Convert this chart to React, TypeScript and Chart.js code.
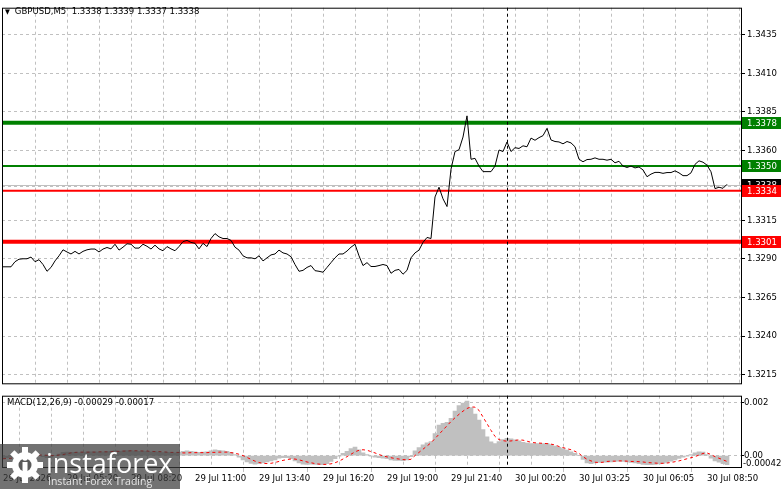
import React, { useEffect, useRef } from "react";
import { Chart, registerables } from "chart.js";

Chart.register(...registerables);

const FONT = '"DejaVu Sans Condensed", "DejaVu Sans", sans-serif';
const FS = 9.5;

// ---------------- data ----------------
const headerText = "GBPUSD,M5  1.3338 1.3339 1.3337 1.3338";
const macdTitle = "MACD(12,26,9) -0.00029 -0.00017";

// one point = 10 minutes (two M5 bars); a time label every 16 points
const timeLabels = [
  "29 Jul 2026", "29 Jul 05:20", "29 Jul 08:20", "29 Jul 11:00", "29 Jul 13:40", "29 Jul 16:20",
  "29 Jul 19:00", "29 Jul 21:40", "30 Jul 00:20", "30 Jul 03:25", "30 Jul 06:05", "30 Jul 08:50",
];
const labelEvery = 16;
const gridEvery = 8;
const daySeparator = 126; // 30 Jul 00:00

const closePrices = [
  1.32848, 1.32848, 1.32848, 1.32881, 1.32897, 1.329, 1.329, 1.32911, 1.32881, 1.32894,
  1.32863, 1.32819, 1.32844, 1.32886, 1.32919, 1.32958, 1.32944, 1.32931, 1.32948, 1.32931,
  1.32948, 1.32958, 1.32963, 1.32963, 1.32944, 1.32963, 1.32973, 1.32964, 1.32994, 1.32956,
  1.32975, 1.32997, 1.32994, 1.32969, 1.32969, 1.32994, 1.32981, 1.32963, 1.32988, 1.32964,
  1.32952, 1.32979, 1.32964, 1.32952, 1.32979, 1.33011, 1.33019, 1.33006, 1.33, 1.32964,
  1.33, 1.32979, 1.33031, 1.33063, 1.33042, 1.33031, 1.33031, 1.33019, 1.32975, 1.32956,
  1.32919, 1.32906, 1.32906, 1.329, 1.32919, 1.32886, 1.32906, 1.32925, 1.32931, 1.32956,
  1.32938, 1.32931, 1.32913, 1.32863, 1.32819, 1.32825, 1.32844, 1.32856, 1.32823, 1.32819,
  1.32813, 1.32844, 1.32875, 1.32906, 1.32931, 1.32931, 1.3295, 1.32975, 1.32994, 1.32919,
  1.32856, 1.32875, 1.3285, 1.3285, 1.32856, 1.32863, 1.32856, 1.32806, 1.32825, 1.32831,
  1.328, 1.32825, 1.32906, 1.32938, 1.32956, 1.33006, 1.33038, 1.33031, 1.333, 1.33363,
  1.33288, 1.33238, 1.3348, 1.33594, 1.33606, 1.33688, 1.33825, 1.33544, 1.3355, 1.335,
  1.33464, 1.33464, 1.33464, 1.335, 1.33604, 1.33594, 1.33656, 1.33594, 1.33619, 1.33614,
  1.33631, 1.33625, 1.33681, 1.33667, 1.33684, 1.33697, 1.33744, 1.33669, 1.33659, 1.33656,
  1.33644, 1.33659, 1.3365, 1.33625, 1.33544, 1.33528, 1.33542, 1.33544, 1.33553, 1.33544,
  1.33544, 1.33538, 1.33544, 1.33521, 1.33531, 1.335, 1.33491, 1.335, 1.33488, 1.33494,
  1.33475, 1.33431, 1.33448, 1.33459, 1.33459, 1.33453, 1.33458, 1.33458, 1.33469, 1.33456,
  1.33438, 1.33438, 1.33456, 1.33511, 1.33534, 1.33525, 1.33506, 1.33463, 1.33354, 1.33363,
  1.33356, 1.33382,
];

const macdMain = [
  -0.0001, -0.00008, -0.00005, -0.00002, 0.00002, 0.00004, 0.00005, 0.00004, 0.00002, 0.0,
  -0.00004, -0.00008, -0.00006, 0.0, 0.00006, 0.00012, 0.00013, 0.00012, 0.00012, 0.00011,
  0.00012, 0.00013, 0.00014, 0.00014, 0.00013, 0.00014, 0.00015, 0.00016, 0.00018, 0.00016,
  0.00017, 0.00019, 0.00019, 0.00017, 0.00016, 0.00017, 0.00016, 0.00014, 0.00015, 0.00013,
  0.00011, 0.00012, 0.00011, 0.0001, 0.00012, 0.00016, 0.00018, 0.00016, 0.00014, 0.00012,
  0.00013, 0.00014, 0.00018, 0.00022, 0.0002, 0.00018, 0.00016, 0.00012, 0.00004, -0.00006,
  -0.00016, -0.00024, -0.00029, -0.00032, -0.0003, -0.00028, -0.00024, -0.0002, -0.00016, -0.0001,
  -0.00008, -0.00008, -0.00012, -0.0002, -0.00028, -0.00032, -0.00033, -0.00032, -0.00033, -0.00034,
  -0.00034, -0.0003, -0.00022, -0.00012, -0.00002, 0.00008, 0.00016, 0.00026, 0.00032, 0.00022,
  0.0001, 0.00004, -0.00002, -0.00006, -0.00008, -0.0001, -0.00012, -0.00016, -0.00018, -0.00018,
  -0.00019, -0.00016, -0.00004, 0.00018, 0.0003, 0.0004, 0.00048, 0.00053, 0.00083, 0.00115,
  0.00121, 0.00125, 0.0014, 0.00167, 0.00188, 0.00197, 0.00205, 0.0018, 0.00156, 0.00133,
  0.00098, 0.0007, 0.00052, 0.00045, 0.00053, 0.0006, 0.00065, 0.00063, 0.00059, 0.00055,
  0.0005, 0.00047, 0.00045, 0.00045, 0.00045, 0.00045, 0.00046, 0.00041, 0.00036, 0.00031,
  0.00026, 0.00021, 0.00014, 0.00008, 0.0, -0.00014, -0.00028, -0.0003, -0.00028, -0.00026,
  -0.00025, -0.00025, -0.00024, -0.00022, -0.00021, -0.00022, -0.00024, -0.00026, -0.00028, -0.0003,
  -0.00033, -0.00034, -0.00034, -0.00033, -0.00031, -0.00029, -0.00026, -0.00021, -0.00016, -0.00011,
  -0.00006, -0.00002, 0.00004, 0.0001, 0.00014, 0.00013, 0.00004, -0.0001, -0.0002, -0.00025,
  -0.0003, -0.00034,
];

const macdSignal = [
  -0.00012, -0.00011, -0.0001, -0.00008, -0.00006, -0.00004, -0.00002, 0.0, 0.00001, 0.00002,
  0.00002, 0.00001, 0.0, 0.0, 0.00002, 0.00004, 0.00007, 0.0001, 0.00012, 0.00013,
  0.00013, 0.00013, 0.00013, 0.00013, 0.00014, 0.00014, 0.00014, 0.00015, 0.00016, 0.00016,
  0.00017, 0.00017, 0.00018, 0.00018, 0.00018, 0.00017, 0.00017, 0.00016, 0.00015, 0.00015,
  0.00014, 0.00013, 0.00012, 0.00012, 0.00012, 0.0001, 0.0001, 0.00011, 0.00011, 0.00011,
  0.00011, 0.00011, 0.00012, 0.00012, 0.00013, 0.00013, 0.00013, 0.00011, 0.00009, 0.00005,
  0.0, -0.00007, -0.00014, -0.00021, -0.00026, -0.00029, -0.0003, -0.00029, -0.00026, -0.00022,
  -0.00018, -0.00015, -0.00013, -0.00013, -0.00016, -0.0002, -0.00024, -0.00027, -0.0003, -0.00032,
  -0.00033, -0.00033, -0.00031, -0.00027, -0.00021, -0.00013, -0.00004, 0.00005, 0.00014, 0.0002,
  0.00022, 0.0002, 0.00015, 0.0001, 0.00004, -0.00001, -0.00005, -0.00008, -0.00011, -0.00013,
  -0.00015, -0.00016, -0.00014, 0.0, 0.00012, 0.00024, 0.00036, 0.00048, 0.00064, 0.0008,
  0.00096, 0.00112, 0.00128, 0.00142, 0.00155, 0.00167, 0.00177, 0.00183, 0.00182, 0.0017,
  0.00145, 0.0012, 0.00095, 0.00072, 0.0006, 0.00056, 0.00054, 0.00055, 0.00057, 0.00059,
  0.00058, 0.00054, 0.0005, 0.00048, 0.00047, 0.00046, 0.00045, 0.00043, 0.0004, 0.00034,
  0.0003, 0.00026, 0.00022, 0.00016, 0.00008, -0.00004, -0.00014, -0.0002, -0.00025, -0.00026,
  -0.00025, -0.00022, -0.00021, -0.00021, -0.0002, -0.0002, -0.00021, -0.00022, -0.00022, -0.00023,
  -0.00024, -0.00026, -0.00027, -0.00028, -0.00029, -0.00029, -0.00028, -0.00026, -0.00023, -0.0002,
  -0.00016, -0.00012, -0.00008, -0.00004, 0.00002, 0.00008, 0.0001, 0.00004, -0.00004, -0.0001,
  -0.00016, -0.00022,
];

const priceTicks = [1.3435, 1.341, 1.3385, 1.336, 1.3337, 1.3315, 1.329, 1.3265, 1.324, 1.3215];
const levelValues = [1.3378, 1.335, 1.3334, 1.3301];
const bidPrice = 1.3338;
const markerValues = [1.3378, 1.335, 1.3338, 1.3334, 1.3301];
const macdTicks = [0.002, 0];
const macdLowLabel = "-0.00042";

// ---------------- styles / layout ----------------
const levelColors = ["#008000", "#008000", "#ff0000", "#ff0000"];
const levelWidths = [4, 2, 2, 4];
const markerColors = ["#008000", "#008000", "#000000", "#ff0000", "#ff0000"];
const GRID = "#c0c0c0";
const W = 781;
const MAIN_H = 391;
const MACD_TOP = 390;
const MACD_H = 99;
const X_MIN = -0.25;
const X_MAX = 184.5;
const PRICE_MIN = 1.32094;
const PRICE_MAX = 1.34525;
const MACD_MIN = -0.000429;
const MACD_MAX = 0.00225;

function gridSteps(): number[] {
  const out: number[] = [];
  for (let v = 0; v <= X_MAX; v += gridEvery) out.push(v);
  return out;
}

function drawSeparator(chart: any) {
  const { ctx, chartArea: a, scales } = chart;
  const xs = Math.round(scales.x.getPixelForValue(daySeparator)) + 0.5;
  ctx.save();
  ctx.strokeStyle = "#000";
  ctx.lineWidth = 1;
  ctx.setLineDash([3, 3]);
  ctx.beginPath();
  ctx.moveTo(xs, a.top);
  ctx.lineTo(xs, a.bottom);
  ctx.stroke();
  ctx.restore();
}

function drawFrame(chart: any) {
  const { ctx, chartArea: a } = chart;
  ctx.save();
  ctx.strokeStyle = "#000";
  ctx.lineWidth = 1;
  ctx.strokeRect(a.left + 0.5, a.top + 0.5, a.right - a.left, a.bottom - a.top);
  ctx.restore();
}

const mainPlugin = {
  id: "mainDecor",
  beforeDatasetsDraw(chart: any) {
    const { ctx, chartArea: a, scales } = chart;
    const y = scales.y;
    ctx.save();
    ctx.beginPath();
    ctx.rect(a.left, a.top, a.right - a.left, a.bottom - a.top);
    ctx.clip();
    const yb = Math.round(y.getPixelForValue(bidPrice)) + 0.5;
    ctx.strokeStyle = GRID;
    ctx.lineWidth = 1;
    ctx.beginPath();
    ctx.moveTo(a.left, yb);
    ctx.lineTo(a.right, yb);
    ctx.stroke();
    levelValues.forEach((v, k) => {
      const yy = y.getPixelForValue(v);
      ctx.strokeStyle = levelColors[k];
      ctx.lineWidth = levelWidths[k];
      ctx.beginPath();
      ctx.moveTo(a.left, yy);
      ctx.lineTo(a.right, yy);
      ctx.stroke();
    });
    ctx.restore();
    drawSeparator(chart);
  },
  afterDraw(chart: any) {
    const { ctx, chartArea: a, scales } = chart;
    drawFrame(chart);
    ctx.save();
    ctx.font = `${FS}px ${FONT}`;
    ctx.textBaseline = "middle";
    ctx.textAlign = "left";
    markerValues.forEach((v, k) => {
      const yy = Math.round(scales.y.getPixelForValue(v));
      ctx.fillStyle = markerColors[k];
      ctx.fillRect(a.right + 1, yy - 6, W - a.right - 1, 12);
      ctx.fillStyle = "#fff";
      ctx.fillText(v.toFixed(4), a.right + 6, yy + 0.5);
    });
    ctx.restore();
  },
};

const macdPlugin = {
  id: "macdDecor",
  afterDatasetsDraw(chart: any) {
    drawSeparator(chart);
  },
  afterDraw(chart: any) {
    const { ctx, chartArea: a } = chart;
    drawFrame(chart);
    ctx.save();
    ctx.font = `${FS}px ${FONT}`;
    ctx.fillStyle = "#000";
    ctx.textBaseline = "bottom";
    ctx.textAlign = "left";
    ctx.fillText(macdLowLabel, a.right + 2, a.bottom + 1);
    ctx.restore();
  },
};

function GearIcon() {
  const teeth = [0, 45, 90, 135, 180, 225, 270, 315];
  return (
    <svg width={40} height={40} viewBox="0 0 40 40" style={{ position: "absolute", left: 5, top: 1 }}>
      {teeth.map((r) => (
        <rect key={r} x={17} y={2} width={6} height={8} fill="#fff" transform={`rotate(${r} 20 20)`} />
      ))}
      <circle cx={20} cy={20} r={13} fill="#fff" />
      <circle cx={20} cy={20} r={6.5} fill="#5a5a5a" />
      <rect x={17.5} y={17} width={5} height={14} fill="#fff" />
      <circle cx={20} cy={13} r={2.8} fill="#fff" />
    </svg>
  );
}

export default function App() {
  const mainRef = useRef<HTMLCanvasElement | null>(null);
  const macdRef = useRef<HTMLCanvasElement | null>(null);

  useEffect(() => {
    document.body.style.margin = "0";
    Chart.defaults.font.family = FONT;
    Chart.defaults.font.size = FS;
    Chart.defaults.color = "#000";

    const steps = gridSteps();

    const main = new Chart(mainRef.current as HTMLCanvasElement, {
      type: "line",
      data: {
        datasets: [
          {
            data: closePrices.map((v, i) => ({ x: i, y: v })),
            borderColor: "#000",
            borderWidth: 1,
            pointRadius: 0,
            tension: 0,
          },
        ],
      },
      options: {
        responsive: false,
        animation: false,
        events: [],
        layout: { padding: { left: 2, top: 1, right: 0, bottom: 1 } },
        plugins: { legend: { display: false }, tooltip: { enabled: false } },
        scales: {
          x: {
            type: "linear",
            min: X_MIN,
            max: X_MAX,
            afterBuildTicks: (s: any) => {
              s.ticks = steps.filter((v) => v > 0).map((v) => ({ value: v }));
            },
            afterFit: (s: any) => {
              s.height = 0;
            },
            ticks: { display: false },
            grid: { color: GRID, drawTicks: false, tickLength: 0 },
            border: { display: false, dash: [3, 3] },
          },
          y: {
            type: "linear",
            position: "right",
            min: PRICE_MIN,
            max: PRICE_MAX,
            afterBuildTicks: (s: any) => {
              s.ticks = priceTicks.map((v) => ({ value: v }));
            },
            afterFit: (s: any) => {
              s.width = W - 741;
            },
            ticks: {
              padding: 2,
              color: "#000",
              font: { size: FS, family: FONT },
              callback: (v: any) => Number(v).toFixed(4),
            },
            grid: { color: GRID, tickColor: "#000", tickLength: 4 },
            border: { display: false, dash: [3, 3] },
          },
        },
      },
      plugins: [mainPlugin],
    } as any);

    const macd = new Chart(macdRef.current as HTMLCanvasElement, {
      type: "bar",
      data: {
        datasets: [
          {
            type: "line",
            data: macdSignal.map((v, i) => ({ x: i, y: v })),
            borderColor: "#ff0000",
            borderWidth: 1,
            borderDash: [3, 3],
            pointRadius: 0,
            tension: 0,
            order: 1,
          },
          {
            type: "bar",
            data: macdMain.map((v, i) => ({ x: i, y: v })),
            backgroundColor: "#c0c0c0",
            borderWidth: 0,
            barPercentage: 1,
            categoryPercentage: 1,
            order: 2,
          },
        ],
      },
      options: {
        responsive: false,
        animation: false,
        events: [],
        layout: { padding: { left: 2, top: 2, right: 0, bottom: 0 } },
        plugins: { legend: { display: false }, tooltip: { enabled: false } },
        scales: {
          x: {
            type: "linear",
            min: X_MIN,
            max: X_MAX,
            offset: false,
            afterBuildTicks: (s: any) => {
              s.ticks = steps.map((v) => ({ value: v }));
            },
            afterFit: (s: any) => {
              s.height = 22;
            },
            ticks: {
              autoSkip: false,
              maxRotation: 0,
              minRotation: 0,
              align: "start",
              padding: 1,
              color: "#000",
              font: { size: FS, family: FONT },
              callback: (v: any) => {
                const n = Number(v);
                return n % labelEvery === 0 ? timeLabels[n / labelEvery] ?? "" : "";
              },
            },
            grid: {
              color: (c: any) => (c.tick && c.tick.value === 0 ? "rgba(0,0,0,0)" : GRID),
              tickColor: (c: any) => (c.tick && c.tick.value % labelEvery === 0 ? GRID : "rgba(0,0,0,0)"),
              tickLength: 5,
            },
            border: { display: false, dash: [3, 3] },
          },
          y: {
            type: "linear",
            position: "right",
            min: MACD_MIN,
            max: MACD_MAX,
            afterBuildTicks: (s: any) => {
              s.ticks = macdTicks.map((v) => ({ value: v }));
            },
            afterFit: (s: any) => {
              s.width = W - 741;
            },
            ticks: {
              padding: 0,
              color: "#000",
              font: { size: FS, family: FONT },
              callback: (v: any) => (Number(v) === 0 ? "0.00" : Number(v).toFixed(3)),
            },
            grid: { color: GRID, tickColor: "#000", tickLength: 3 },
            border: { display: false, dash: [3, 3] },
          },
        },
      },
      plugins: [macdPlugin],
    } as any);

    return () => {
      main.destroy();
      macd.destroy();
    };
  }, []);

  return (
    <div
      style={{
        position: "fixed",
        left: 0,
        top: 0,
        width: W,
        height: 489,
        background: "#fff",
        overflow: "hidden",
        fontFamily: FONT,
      }}
    >
      <canvas
        ref={mainRef}
        width={W}
        height={MAIN_H}
        style={{ position: "absolute", left: 0, top: 0, width: W, height: MAIN_H }}
      />
      <canvas
        ref={macdRef}
        width={W}
        height={MACD_H}
        style={{ position: "absolute", left: 0, top: MACD_TOP, width: W, height: MACD_H }}
      />
      <div
        style={{
          position: "absolute",
          left: 5,
          top: 5,
          fontSize: FS,
          lineHeight: "11px",
          color: "#000",
          whiteSpace: "pre",
        }}
      >
        <span style={{ fontSize: 7, marginRight: 5 }}>▼</span>
        {headerText}
      </div>
      <div
        style={{
          position: "absolute",
          left: 7,
          top: 396,
          fontSize: FS,
          lineHeight: "11px",
          color: "#000",
          whiteSpace: "pre",
        }}
      >
        {macdTitle}
      </div>
      <div
        style={{
          position: "absolute",
          left: 0,
          top: 444,
          width: 180,
          height: 45,
          background: "rgba(60,60,60,0.72)",
        }}
      >
        <GearIcon />
        <div
          style={{
            position: "absolute",
            left: 46,
            top: 5,
            fontFamily: '"Open Sans", sans-serif',
            fontSize: 27,
            lineHeight: "28px",
            color: "#fff",
            whiteSpace: "pre",
          }}
        >
          instaforex
        </div>
        <div
          style={{
            position: "absolute",
            left: 48,
            top: 32,
            fontFamily: '"Open Sans", sans-serif',
            fontSize: 10.5,
            lineHeight: "10.5px",
            color: "#e6e6e6",
            whiteSpace: "pre",
          }}
        >
          Instant Forex Trading
        </div>
      </div>
    </div>
  );
}
